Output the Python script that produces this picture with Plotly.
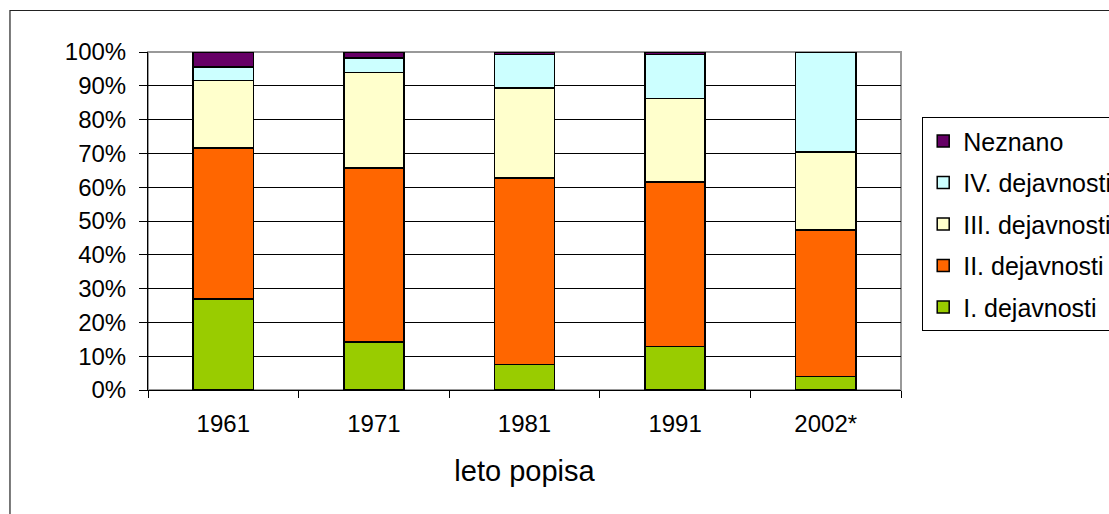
import plotly.graph_objects as go

years = ["1961", "1971", "1981", "1991", "2002*"]
dej_1 = [26.9, 14.2, 7.6, 12.9, 4.0]
dej_2 = [44.7, 51.5, 55.1, 48.6, 43.4]
dej_3 = [20.0, 28.3, 26.6, 24.8, 23.0]
dej_4 = [4.0, 4.2, 10.0, 13.0, 29.6]
neznano = [4.4, 1.8, 0.7, 0.7, 0.0]

series = [
    ("I. dejavnosti", dej_1, "#99CC00"),
    ("II. dejavnosti", dej_2, "#FF6600"),
    ("III. dejavnosti", dej_3, "#FFFFCC"),
    ("IV. dejavnosti", dej_4, "#CCFFFF"),
    ("Neznano", neznano, "#660066"),
]

font = "Liberation Sans, Arial, sans-serif"

fig = go.Figure()
for i, (name, vals, col) in enumerate(series):
    fig.add_trace(go.Bar(
        x=years, y=[v / 100 for v in vals], name=name, legendgroup=name,
        legendrank=100 - i,
        marker=dict(color=col, line=dict(color="black", width=1.5)),
    ))

# outer chart border and grey plot-area frame
fig.add_shape(type="rect", xref="paper", yref="paper",
              x0=-0.1833, x1=2, y0=-1, y1=1.1228,
              line=dict(color="#222222", width=1.2))
fig.add_shape(type="rect", xref="paper", yref="paper",
              x0=0, x1=1, y0=0, y1=1, layer="below",
              line=dict(color="#999999", width=2))

# figure is a bit wider than the window so the legend can run off the right edge
fig.update_layout(
    width=1140, height=514,
    margin=dict(l=148, r=239, t=52, b=124),
    barmode="stack", bargap=0.6,
    plot_bgcolor="white", paper_bgcolor="white",
    font=dict(family=font, size=24, color="black"),
    legend=dict(
        x=1.0279, y=0.8077, xanchor="left", yanchor="top",
        traceorder="grouped", tracegroupgap=6,
        bordercolor="black", borderwidth=1.2,
        font=dict(family=font, size=25, color="black"),
    ),
    xaxis=dict(
        type="category", tickson="boundaries", ticks="outside",
        ticklen=7, tickcolor="black", showline=True, linecolor="black",
        linewidth=1, showgrid=False, ticklabelstandoff=12,
        title=dict(text="leto popisa", standoff=24),
    ),
    yaxis=dict(
        range=[0, 1], dtick=0.1, tickformat=".0%", ticks="outside",
        ticklen=8, tickcolor="black", showline=True, linecolor="black",
        linewidth=1, showgrid=True, gridcolor="black", gridwidth=1,
        zeroline=False, ticklabelstandoff=8,
    ),
)

fig.write_html(
    "out.html",
    config={"displayModeBar": False},
    post_script="document.body.style.margin='0';document.body.style.overflow='hidden';",
)
